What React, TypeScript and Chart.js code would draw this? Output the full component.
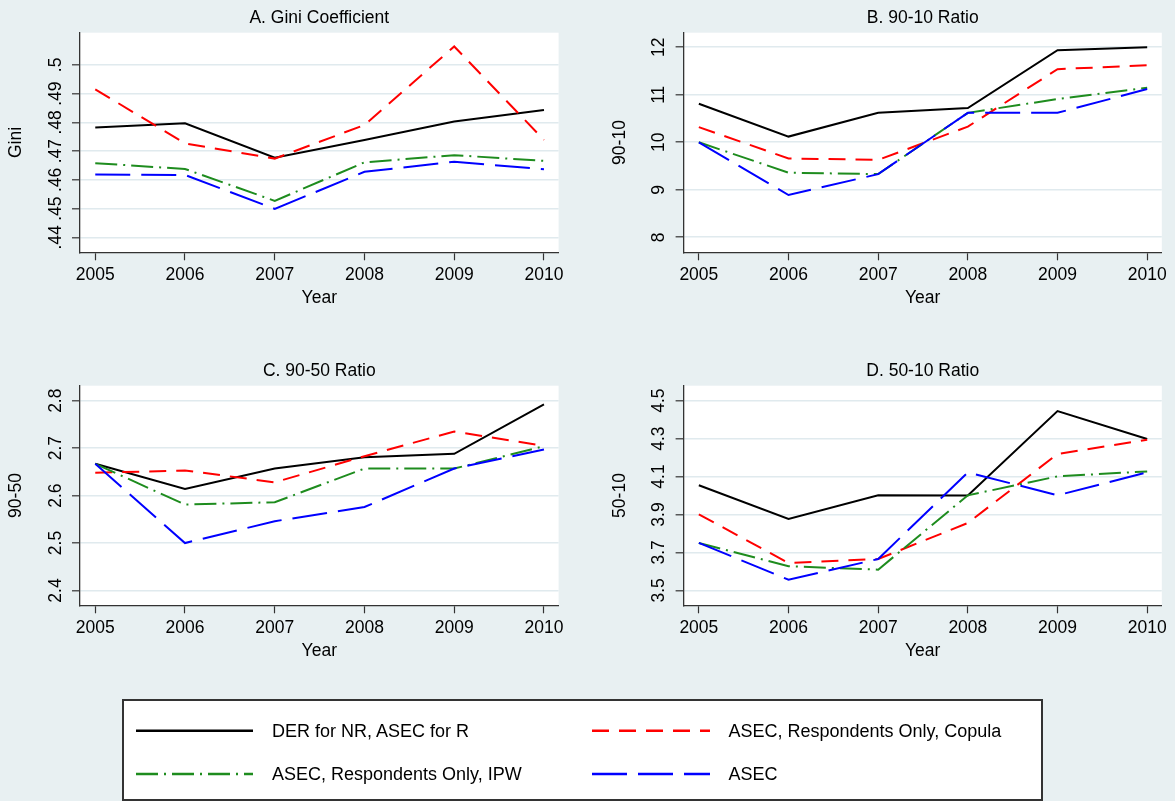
import React, { useEffect, useRef } from "react";
import { Chart, registerables } from "chart.js";

Chart.register(...registerables);

// ---------------- data ----------------
const years = [2005, 2006, 2007, 2008, 2009, 2010];
const seriesNames = [
  "DER for NR, ASEC for R",
  "ASEC, Respondents Only, Copula",
  "ASEC, Respondents Only, IPW",
  "ASEC",
];

const giniDER = [0.4782, 0.4797, 0.4677, 0.4739, 0.4803, 0.4843];
const giniCopula = [0.4915, 0.4727, 0.4674, 0.4791, 0.5064, 0.4739];
const giniIPW = [0.4658, 0.4638, 0.4527, 0.4661, 0.4686, 0.4666];
const giniASEC = [0.4619, 0.4617, 0.4499, 0.4628, 0.4663, 0.4637];
const giniTicks = [0.44, 0.45, 0.46, 0.47, 0.48, 0.49, 0.5];
const giniTickLabels = [".44", ".45", ".46", ".47", ".48", ".49", ".5"];

const r9010DER = [10.81, 10.12, 10.62, 10.72, 11.94, 12.0];
const r9010Copula = [10.32, 9.66, 9.63, 10.33, 11.54, 11.62];
const r9010IPW = [10.0, 9.36, 9.33, 10.62, 10.91, 11.15];
const r9010ASEC = [10.0, 8.89, 9.33, 10.62, 10.62, 11.12];
const r9010Ticks = [8, 9, 10, 11, 12];
const r9010TickLabels = ["8", "9", "10", "11", "12"];

const r9050DER = [2.667, 2.614, 2.657, 2.681, 2.688, 2.792];
const r9050Copula = [2.648, 2.653, 2.628, 2.683, 2.735, 2.705];
const r9050IPW = [2.667, 2.581, 2.586, 2.657, 2.657, 2.704];
const r9050ASEC = [2.667, 2.5, 2.546, 2.576, 2.657, 2.697];
const r9050Ticks = [2.4, 2.5, 2.6, 2.7, 2.8];
const r9050TickLabels = ["2.4", "2.5", "2.6", "2.7", "2.8"];

const r5010DER = [4.054, 3.876, 4.001, 4.0, 4.445, 4.298];
const r5010Copula = [3.901, 3.644, 3.665, 3.855, 4.219, 4.294];
const r5010IPW = [3.75, 3.627, 3.609, 4.001, 4.101, 4.127];
const r5010ASEC = [3.75, 3.556, 3.665, 4.122, 4.001, 4.122];
const r5010Ticks = [3.5, 3.7, 3.9, 4.1, 4.3, 4.5];
const r5010TickLabels = ["3.5", "3.7", "3.9", "4.1", "4.3", "4.5"];

// ---------------- styles ----------------
const FAMILY = "'Liberation Sans', Arial, Helvetica, sans-serif";
const FONT_SIZE = 17.5;
const BG = "#e8f0f2";
const AXIS = "#333333";
const GRID = "#e0eaee";
const GREEN = "#1e8c1e";
const LINE_STYLES = [
  { color: "#000000", dash: [] as number[], order: 4 },
  { color: "#ff0000", dash: [17, 10], order: 3 },
  { color: GREEN, dash: [22, 6, 2, 6], order: 2 },
  { color: "#0000ff", dash: [35, 11], order: 1 },
];

const X_MIN = 2004.83;
const X_MAX = 2010.163;

type PanelCfg = {
  left: number;
  top: number;
  width: number;
  height: number;
  yWidth: number;
  rightPad: number;
  yTitlePad: number;
  yTickPad: number;
  title: string;
  yTitle: string;
  yMin: number;
  yMax: number;
  ticks: number[];
  tickLabels: string[];
  series: number[][];
};

const plotBg = {
  id: "plotBg",
  beforeDraw(chart: any) {
    const { ctx, chartArea: a } = chart;
    ctx.save();
    ctx.fillStyle = "#ffffff";
    ctx.fillRect(a.left, a.top, a.right - a.left, a.bottom - a.top);
    ctx.restore();
  },
};

function Panel({ cfg }: { cfg: PanelCfg }) {
  const ref = useRef<HTMLCanvasElement | null>(null);
  useEffect(() => {
    if (!ref.current) return;
    const font = { family: FAMILY, size: FONT_SIZE, weight: "normal" as const };
    const chart = new Chart(ref.current, {
      type: "line",
      data: {
        datasets: cfg.series.map((vals, i) => ({
          label: seriesNames[i],
          data: years.map((yr, j) => ({ x: yr, y: vals[j] })),
          borderColor: LINE_STYLES[i].color,
          borderDash: LINE_STYLES[i].dash,
          borderWidth: 2,
          borderCapStyle: "butt" as const,
          pointRadius: 0,
          tension: 0,
          fill: false,
          order: LINE_STYLES[i].order,
        })),
      },
      options: {
        animation: false,
        responsive: false,
        devicePixelRatio: 1,
        events: [],
        layout: { padding: { left: 0, right: cfg.rightPad, top: 0, bottom: 0 } },
        plugins: {
          legend: { display: false },
          tooltip: { enabled: false },
          title: {
            display: true,
            text: cfg.title,
            fullSize: false,
            color: "#000",
            font,
            padding: { top: 8.1, bottom: 3.6 },
          },
        },
        scales: {
          x: {
            type: "linear",
            position: "bottom",
            min: X_MIN,
            max: X_MAX,
            afterBuildTicks: (scale: any) => {
              scale.ticks = years.map((v) => ({ value: v }));
            },
            afterFit: (scale: any) => {
              scale.height = cfg.height - 252.3;
            },
            ticks: {
              color: "#000",
              font,
              padding: 4.2,
              maxRotation: 0,
              autoSkip: false,
              callback: (v: any) => String(v),
            },
            grid: {
              drawOnChartArea: false,
              drawTicks: true,
              tickLength: 8,
              tickColor: AXIS,
              tickWidth: 1.2,
            },
            border: { display: true, color: AXIS, width: 1.3 },
            title: {
              display: true,
              text: "Year",
              color: "#000",
              font,
              padding: { top: 0, bottom: 11.8 },
            },
          },
          y: {
            type: "linear",
            position: "left",
            min: cfg.yMin,
            max: cfg.yMax,
            afterBuildTicks: (scale: any) => {
              scale.ticks = cfg.ticks.map((v) => ({ value: v }));
            },
            afterFit: (scale: any) => {
              scale.width = cfg.yWidth;
            },
            ticks: {
              color: "#000",
              font,
              minRotation: 90,
              maxRotation: 90,
              crossAlign: "center",
              padding: cfg.yTickPad,
              autoSkip: false,
              callback: (_v: any, i: number) => cfg.tickLabels[i],
            },
            grid: {
              drawOnChartArea: true,
              color: GRID,
              lineWidth: 1.6,
              drawTicks: true,
              tickLength: 8,
              tickColor: AXIS,
              tickWidth: 1.2,
            },
            border: { display: true, color: AXIS, width: 1.3 },
            title: {
              display: true,
              text: cfg.yTitle,
              color: "#000",
              font,
              padding: { top: cfg.yTitlePad, bottom: 0 },
            },
          },
        },
      },
      plugins: [plotBg],
    } as any);
    return () => chart.destroy();
  }, [cfg]);
  return (
    <canvas
      ref={ref}
      width={cfg.width}
      height={cfg.height}
      style={{
        position: "absolute",
        left: cfg.left,
        top: cfg.top,
        width: cfg.width,
        height: cfg.height,
      }}
    />
  );
}

const panels: PanelCfg[] = [
  {
    left: 0, top: 0, width: 580, height: 320, yWidth: 80, rightPad: 21.4,
    yTitlePad: 6.1, yTickPad: 3.8, title: "A. Gini Coefficient", yTitle: "Gini",
    yMin: 0.4348, yMax: 0.5112, ticks: giniTicks, tickLabels: giniTickLabels,
    series: [giniDER, giniCopula, giniIPW, giniASEC],
  },
  {
    left: 580, top: 0, width: 595, height: 320, yWidth: 103.6, rightPad: 13.2,
    yTitlePad: 29.5, yTickPad: 6.3, title: "B. 90-10 Ratio", yTitle: "90-10",
    yMin: 7.684, yMax: 12.307, ticks: r9010Ticks, tickLabels: r9010TickLabels,
    series: [r9010DER, r9010Copula, r9010IPW, r9010ASEC],
  },
  {
    left: 0, top: 353, width: 580, height: 320, yWidth: 80, rightPad: 21.4,
    yTitlePad: 6.1, yTickPad: 3.8, title: "C. 90-50 Ratio", yTitle: "90-50",
    yMin: 2.3688, yMax: 2.8316, ticks: r9050Ticks, tickLabels: r9050TickLabels,
    series: [r9050DER, r9050Copula, r9050IPW, r9050ASEC],
  },
  {
    left: 580, top: 353, width: 595, height: 320, yWidth: 103.6, rightPad: 13.2,
    yTitlePad: 29.5, yTickPad: 3.8, title: "D. 50-10 Ratio", yTitle: "50-10",
    yMin: 3.421, yMax: 4.579, ticks: r5010Ticks, tickLabels: r5010TickLabels,
    series: [r5010DER, r5010Copula, r5010IPW, r5010ASEC],
  },
];

const LEGEND_COLS = [
  { x1: 136, x2: 253, tx: 272 },
  { x1: 592, x2: 710, tx: 728.5 },
];
const LEGEND_ROWS = [730.8, 774];

function Legend() {
  return (
    <>
      <div
        style={{
          position: "absolute",
          left: 122,
          top: 699,
          width: 921,
          height: 102,
          boxSizing: "border-box",
          border: `2px solid ${AXIS}`,
          background: "#ffffff",
        }}
      />
      <svg
        width={1175}
        height={801}
        style={{ position: "absolute", left: 0, top: 0, pointerEvents: "none" }}
      >
        {seriesNames.map((_, i) => {
          const c = LEGEND_COLS[i % 2];
          const y = LEGEND_ROWS[Math.floor(i / 2)];
          return (
            <line
              key={i}
              x1={c.x1}
              x2={c.x2}
              y1={y}
              y2={y}
              stroke={LINE_STYLES[i].color}
              strokeWidth={2.5}
              strokeDasharray={LINE_STYLES[i].dash.join(" ") || undefined}
            />
          );
        })}
      </svg>
      {seriesNames.map((name, i) => {
        const c = LEGEND_COLS[i % 2];
        const y = LEGEND_ROWS[Math.floor(i / 2)];
        return (
          <span
            key={i}
            style={{
              position: "absolute",
              left: c.tx,
              top: y - 10,
              lineHeight: "20px",
              fontSize: 18,
              fontFamily: FAMILY,
              color: "#000",
              whiteSpace: "nowrap",
            }}
          >
            {name}
          </span>
        );
      })}
    </>
  );
}

export default function App() {
  return (
    <div
      style={{
        position: "fixed",
        left: 0,
        top: 0,
        width: 1175,
        height: 801,
        background: BG,
        overflow: "hidden",
      }}
    >
      {panels.map((p, i) => (
        <Panel key={i} cfg={p} />
      ))}
      <Legend />
    </div>
  );
}
